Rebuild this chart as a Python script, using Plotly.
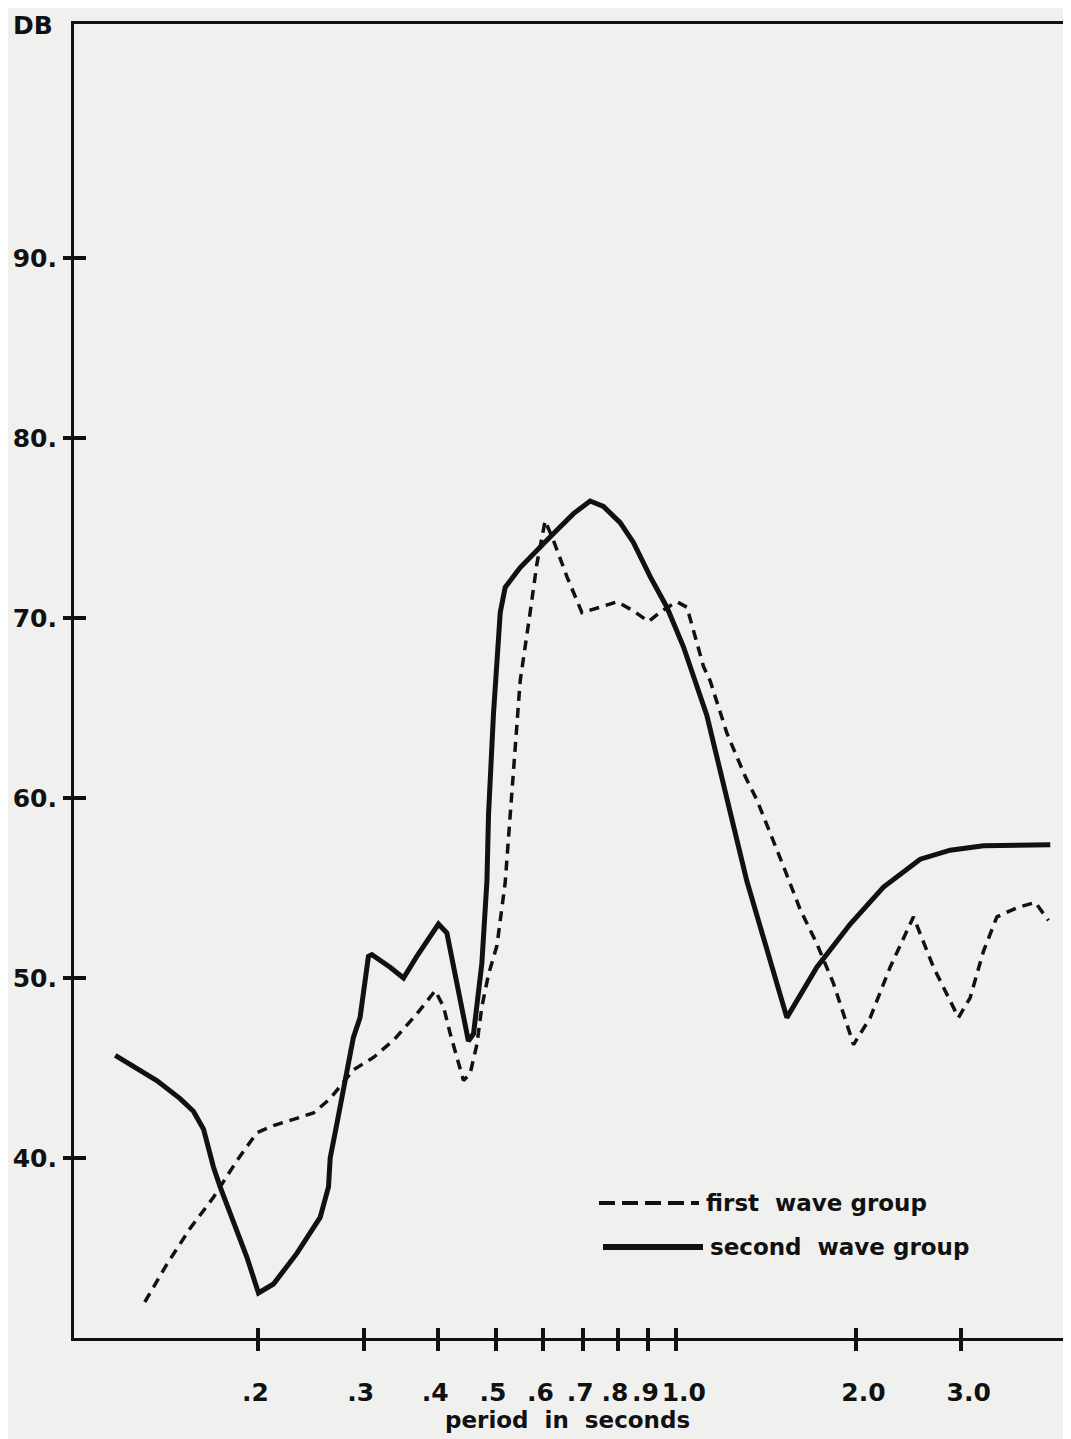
import plotly.graph_objects as go

# period in seconds (log axis) and level in DB
first_period = [0.129, 0.1405, 0.1537, 0.168, 0.184, 0.1987, 0.2119, 0.2319, 0.2472,
                0.2637, 0.2884, 0.312, 0.338, 0.3683, 0.3954, 0.4083, 0.419, 0.441,
                0.4525, 0.4643, 0.4733, 0.4857, 0.5017, 0.5179, 0.5348, 0.5487, 0.5702,
                0.5852, 0.6042, 0.624, 0.6571, 0.6963, 0.7468, 0.7969, 0.8492, 0.90,
                0.9477, 1.004, 1.044, 1.071, 1.113, 1.142, 1.218, 1.307, 1.367, 1.515,
                1.616, 1.723, 1.837, 1.985, 2.117, 2.286, 2.501, 2.702, 2.975, 3.112,
                3.277, 3.451, 3.727, 4.0, 4.21]
first_db = [32.0, 34.1, 36.1, 37.8, 39.85, 41.4, 41.8, 42.2, 42.5,
            43.3, 44.9, 45.6, 46.6, 48.0, 49.3, 48.4, 46.9, 44.3,
            44.7, 46.3, 48.4, 50.2, 51.8, 55.3, 61.9, 66.5, 70.3,
            73.0, 75.4, 74.3, 72.3, 70.3, 70.6, 70.9, 70.4, 69.8,
            70.4, 70.9, 70.6, 69.3, 67.3, 66.5, 63.6, 61.2, 59.9, 56.2,
            53.8, 51.9, 49.7, 46.3, 47.8, 50.6, 53.4, 50.6, 47.8, 48.9,
            51.5, 53.4, 53.9, 54.2, 53.2]

second_period = [0.1151, 0.1351, 0.1478, 0.1556, 0.1618, 0.1681, 0.1725, 0.1912, 0.2,
                 0.2119, 0.2319, 0.2537, 0.262, 0.2637, 0.2706, 0.2794, 0.2884, 0.2959,
                 0.3056, 0.3097, 0.3323, 0.3499, 0.3683, 0.4004, 0.4136, 0.4494, 0.4584,
                 0.4733, 0.4827, 0.4857, 0.4951, 0.5081, 0.5179, 0.5487, 0.5928, 0.624,
                 0.6741, 0.7187, 0.7565, 0.8069, 0.8492, 0.906, 0.9663, 1.03, 1.127,
                 1.233, 1.315, 1.535, 1.723, 1.96, 2.228, 2.567, 2.882, 3.277, 3.727, 4.239]
second_db = [45.7, 44.3, 43.3, 42.6, 41.6, 39.5, 38.4, 34.5, 32.5,
             33.0, 34.7, 36.7, 38.4, 40.0, 41.9, 44.5, 46.7, 47.8,
             51.2, 51.3, 50.6, 50.0, 51.2, 53.0, 52.5, 46.5, 46.9,
             50.8, 55.4, 59.1, 64.7, 70.3, 71.7, 72.8, 74.0, 74.7,
             75.8, 76.5, 76.2, 75.3, 74.2, 72.3, 70.6, 68.4, 64.6,
             59.1, 55.4, 47.8, 50.6, 53.0, 55.05, 56.6, 57.1, 57.35, 57.35, 57.4]

x_ticks = [0.2, 0.3, 0.4, 0.5, 0.6, 0.7, 0.8, 0.9, 1.0, 2.0, 3.0]
# labels below 1 on the main axis, the rest on the overlay axis (shifted a little right)
x_tick_text_low = ['.2', '.3', '.4', '.5', '.6', '.7', '.8', '.9', '', '', '']
x_tick_text_high = ['', '', '', '', '', '', '', '', '1.0', '2.0', '3.0']
y_ticks = [40, 50, 60, 70, 80, 90]
y_tick_text = ['40.', '50.', '60.', '70.', '80.', '90.']

nb = '\u00a0'
ink = '#111111'
paper = '#f0f0ef'
font = 'DejaVu Sans'

# the page body has an 8px margin, so size the figure to fit the window
OFF = 8
W, H = 1071 - OFF, 1439 - OFF
# plot frame in window pixels
L, R, T, B = 74, 1071, 24, 1338
x_range = [-1.008, 0.662]
y_range = [30, 103]


def px_x(v):
    return (v - L) / (R - L)


def px_y(v):
    return (B - v) / (B - T)


fig = go.Figure()
fig.add_trace(go.Scatter(x=first_period, y=first_db, mode='lines', name='first wave group',
                         line=dict(color=ink, width=3.5, dash='10px,7px')))
fig.add_trace(go.Scatter(x=second_period, y=second_db, mode='lines', name='second wave group',
                         line=dict(color=ink, width=5)))
# empty traces so the overlay axes (ticks on the inner side) get drawn
fig.add_trace(go.Scatter(x=[], y=[], xaxis='x2', yaxis='y', hoverinfo='skip'))
fig.add_trace(go.Scatter(x=[], y=[], xaxis='x', yaxis='y2', hoverinfo='skip'))

axis_common = dict(showgrid=False, zeroline=False, tickcolor=ink, tickwidth=3.5)
tick_font = dict(size=25, family=font, color=ink, weight='bold')

fig.update_layout(
    width=W, height=H,
    margin=dict(l=L - OFF, r=W - (R - OFF), t=T - OFF, b=H - (B - OFF)),
    paper_bgcolor=paper, plot_bgcolor=paper,
    showlegend=False,
    font=dict(family=font, color=ink),
    xaxis=dict(type='log', range=x_range, tickvals=x_ticks, ticktext=x_tick_text_low,
               ticks='outside', ticklen=10, showline=True, linecolor=ink, linewidth=3,
               mirror=True, tickfont=tick_font, tickangle=0, ticklabelshift=-3,
               ticklabelstandoff=20, **axis_common),
    xaxis2=dict(type='log', range=x_range, tickvals=x_ticks, ticktext=x_tick_text_high,
                overlaying='x', anchor='y', side='bottom', ticks='inside', ticklen=10,
                tickfont=tick_font, tickangle=0, ticklabelshift=8, ticklabelstandoff=37,
                showline=False, **axis_common),
    yaxis=dict(range=y_range, tickvals=y_ticks, ticktext=y_tick_text,
               ticks='outside', ticklen=8, showline=True, linecolor=ink, linewidth=3,
               tickfont=tick_font, ticklabelstandoff=1, **axis_common),
    yaxis2=dict(range=y_range, tickvals=y_ticks, overlaying='y', anchor='x', side='left',
                ticks='inside', ticklen=12, showticklabels=False, showline=False,
                **axis_common),
)

# hand-drawn style legend inside the plot
fig.add_shape(type='line', xref='paper', yref='paper',
              x0=px_x(599), x1=px_x(699), y0=px_y(1203), y1=px_y(1203),
              line=dict(color=ink, width=4, dash='16px,7px'))
fig.add_shape(type='line', xref='paper', yref='paper',
              x0=px_x(603), x1=px_x(703), y0=px_y(1247), y1=px_y(1247),
              line=dict(color=ink, width=6))
legend_font = dict(size=23, family=font, color=ink, weight='bold')
fig.add_annotation(text='first' + nb * 2 + 'wave group', xref='paper', yref='paper',
                   x=px_x(704), y=px_y(1203), xanchor='left', yanchor='middle',
                   showarrow=False, font=legend_font)
fig.add_annotation(text='second' + nb * 2 + 'wave group', xref='paper', yref='paper',
                   x=px_x(708), y=px_y(1247), xanchor='left', yanchor='middle',
                   showarrow=False, font=legend_font)

# axis labels
fig.add_annotation(text='DB', xref='paper', yref='paper', x=px_x(11), y=px_y(25),
                   xanchor='left', yanchor='middle', showarrow=False,
                   font=dict(size=25, family=font, color=ink, weight='bold'))
fig.add_annotation(text='period' + nb * 2 + 'in' + nb * 2 + 'seconds', xref='paper', yref='paper',
                   x=px_x(567), y=px_y(1420), xanchor='center', yanchor='middle',
                   showarrow=False, font=dict(size=23, family=font, color=ink, weight='bold'))

fig.write_html('out.html')
